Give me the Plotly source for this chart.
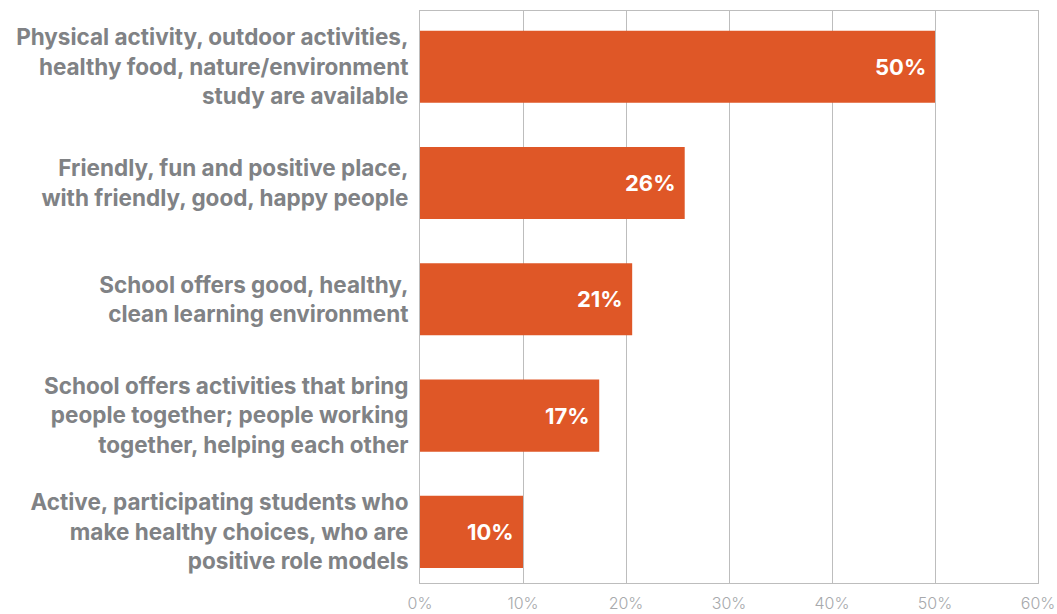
import plotly.graph_objects as go

# Survey themes and the share of responses mentioning each
categories = [
    "Physical activity, outdoor activities,<br>healthy food, nature/environment<br>study are available",
    "Friendly, fun and positive place,<br>with friendly, good, happy people",
    "School offers good, healthy,<br>clean learning environment",
    "School offers activities that bring<br>people together; people working<br>together, helping each other",
    "Active, participating students who<br>make healthy choices, who are<br>positive role models",
]
shares = [50, 25.7, 20.6, 17.4, 10]
tick_vals = [0, 10, 20, 30, 40, 50, 60]
tick_text = ["0%", "10%", "20%", "30%", "40%", "50%", "60%"]

BAR = "#DF5727"
LABEL_GREY = "#808285"
TICK_GREY = "#A7A9AC"
GRID = "#BDBDBD"
FONT = "Inter, Liberation Sans, Arial, sans-serif"

fig = go.Figure(
    go.Bar(
        x=shares,
        y=categories,
        orientation="h",
        marker=dict(color=BAR, line=dict(width=0)),
        width=0.62,
        hoverinfo="skip",
    )
)

# value labels inside the bar ends
for cat, val in zip(categories, shares):
    fig.add_annotation(
        x=val, y=cat, xref="x", yref="y",
        text=f"{val:.0f}%", showarrow=False,
        xanchor="right", xshift=-7,
        font=dict(family=FONT, size=22, color="white", weight="bold"),
    )

fig.update_layout(
    width=1057, height=614,
    margin=dict(l=420, r=19, t=11, b=31),
    plot_bgcolor="white", paper_bgcolor="white",
    showlegend=False,
    bargap=0.38,
)
fig.update_xaxes(
    range=[0, 60], tickvals=tick_vals, ticktext=tick_text,
    showgrid=True, gridcolor=GRID, gridwidth=1,
    showline=True, linecolor=GRID, linewidth=1, mirror=True,
    zeroline=False, ticks="", ticklen=0, automargin=False,
    ticklabelstandoff=6,
    tickfont=dict(family=FONT, size=16, color=TICK_GREY, weight=300),
)
fig.update_yaxes(
    type="category", range=[4.44, -0.48],
    showgrid=False, showline=True, linecolor=GRID, linewidth=1, mirror=True,
    ticks="", ticklen=0, ticklabelstandoff=6, automargin=False,
    tickfont=dict(family=FONT, size=22.5, color=LABEL_GREY, weight="bold"),
)

fig.write_html("out.html")
